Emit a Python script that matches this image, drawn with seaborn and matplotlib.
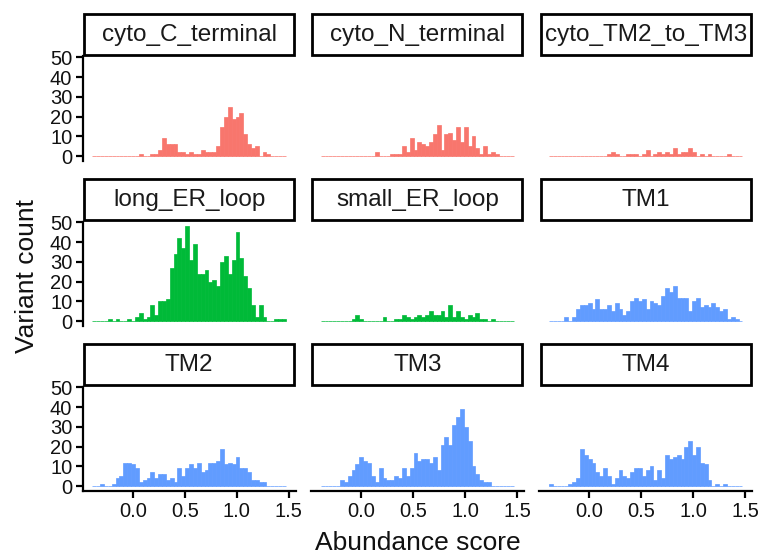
import numpy as np
import pandas as pd
import matplotlib
matplotlib.use("Agg")
import matplotlib.pyplot as plt
from matplotlib.patches import Rectangle
import seaborn as sns

# ---- data: variant counts per abundance-score bin, one list per region ----
regions = ["cyto_C_terminal", "cyto_N_terminal", "cyto_TM2_to_TM3",
           "long_ER_loop", "small_ER_loop", "TM1",
           "TM2", "TM3", "TM4"]
region_type = ["cyto", "cyto", "cyto", "ER", "ER", "TM", "TM", "TM", "TM"]
type_colors = {"cyto": "#F8766D", "ER": "#00BA38", "TM": "#619CFF"}

bin_start = -0.388
bin_width = 0.0372
n_bins = 50

cyto_C_terminal = [0, 0, 0, 0, 0, 0, 0, 0, 0, 0, 0, 0, 1, 0, 0, 1, 1, 3, 9, 6,
                   6, 6, 2, 2, 1, 2, 1, 1, 3, 2, 2, 2, 5, 15, 20, 25, 19, 20, 22, 11,
                   6, 4, 5, 0, 2, 1, 0, 0, 0, 0]
cyto_N_terminal = [0, 0, 0, 0, 0, 0, 0, 0, 0, 0, 0, 0, 0, 0, 2, 0, 0, 0, 1, 1,
                   1, 5, 2, 9, 3, 7, 6, 5, 7, 11, 16, 3, 11, 12, 8, 15, 7, 15, 5, 10,
                   4, 1, 5, 1, 2, 1, 0, 0, 0, 0]
cyto_TM2_to_TM3 = [0, 0, 0, 0, 0, 0, 0, 0, 0, 0, 0, 0, 0, 0, 0, 1, 2, 1, 0, 0,
                   1, 1, 1, 0, 1, 3, 0, 1, 2, 1, 2, 1, 4, 1, 2, 2, 4, 2, 0, 1,
                   0, 1, 0, 0, 0, 0, 1, 0, 0, 0]
long_ER_loop = [0, 0, 0, 0, 1, 0, 1, 0, 0, 1, 0, 2, 4, 1, 2, 8, 3, 10, 10, 11,
                27, 34, 42, 37, 48, 31, 39, 24, 24, 26, 20, 21, 18, 30, 33, 24, 31, 45, 32, 23,
                17, 8, 2, 8, 2, 0, 0, 1, 1, 1]
small_ER_loop = [0, 0, 0, 0, 0, 0, 0, 0, 1, 3, 1, 0, 0, 0, 0, 0, 2, 0, 0, 1,
                 1, 3, 2, 1, 2, 3, 2, 3, 5, 3, 3, 5, 2, 8, 2, 5, 2, 1, 3, 2,
                 4, 1, 1, 0, 1, 0, 0, 0, 0, 0]
TM1 = [0, 0, 0, 0, 2, 0, 2, 6, 8, 8, 9, 6, 11, 6, 6, 8, 5, 9, 6, 3,
       5, 10, 12, 10, 11, 6, 10, 9, 8, 13, 17, 15, 18, 12, 12, 12, 5, 10, 12, 7,
       8, 7, 9, 7, 5, 6, 1, 2, 1, 0]
TM2 = [0, 0, 1, 0, 0, 1, 4, 5, 12, 12, 11, 9, 2, 3, 4, 7, 4, 6, 6, 3,
       4, 2, 9, 5, 9, 11, 9, 12, 7, 8, 12, 12, 13, 19, 11, 12, 11, 15, 9, 9,
       7, 3, 3, 2, 2, 0, 0, 0, 0, 0]
TM3 = [0, 0, 0, 0, 0, 3, 2, 5, 8, 11, 15, 13, 12, 5, 2, 9, 4, 3, 3, 5,
       4, 9, 5, 9, 17, 13, 14, 14, 12, 15, 8, 21, 25, 21, 31, 35, 39, 30, 23, 10,
       6, 3, 2, 2, 0, 0, 0, 0, 0, 0]
TM4 = [1, 0, 0, 0, 0, 1, 2, 4, 19, 16, 14, 12, 7, 5, 9, 5, 1, 4, 8, 5,
       4, 7, 9, 9, 5, 8, 10, 3, 8, 4, 16, 14, 15, 16, 14, 20, 23, 16, 20, 12,
       11, 3, 0, 1, 0, 1, 0, 0, 0, 0]

counts = [cyto_C_terminal, cyto_N_terminal, cyto_TM2_to_TM3,
          long_ER_loop, small_ER_loop, TM1, TM2, TM3, TM4]

x_ticks = [0.0, 0.5, 1.0, 1.5]
y_ticks = [0, 10, 20, 30, 40, 50]

# ---- long-format table ----
bin_end = bin_start + n_bins * bin_width
centers = bin_start + bin_width * (np.arange(n_bins) + 0.5)
frames = []
for name, kind, vals in zip(regions, region_type, counts):
    frames.append(pd.DataFrame({"region": name, "type": kind,
                                "score": centers, "count": vals}))
df = pd.concat(frames, ignore_index=True)

# ---- styling ----
sns.set_theme(style="ticks")
plt.rcParams["font.family"] = ["Liberation Sans", "DejaVu Sans"]
ink = "#111111"

W, H = 762, 556
fig = plt.figure(figsize=(W / 100, H / 100), dpi=100)

col_left = [82.7, 311.0, 539.3]
row_top = [56.5, 221.5, 386.5]
pw, ph = 212.8, 104.5
strip_h = 43.5
box_lw = 2.0      # pt
axis_lw = 1.6     # pt
axis_px = axis_lw * 100 / 72
inset = box_lw * 100 / 72 / 2  # half line width in px

span = n_bins * bin_width
xlim = (bin_start - 0.05 * span, bin_end + 0.05 * span)
ymax = max(max(c) for c in counts)
ylim = (-0.05 * ymax, 1.05 * ymax)

for i, (name, kind) in enumerate(zip(regions, region_type)):
    r, c = divmod(i, 3)
    left = col_left[c] / W
    bottom = (H - row_top[r] - ph) / H
    ax = fig.add_axes([left, bottom, pw / W, ph / H])
    color = type_colors[kind]
    sub = df[df["region"] == name]
    sns.histplot(data=sub, x="score", weights="count", bins=n_bins,
                 binrange=(bin_start, bin_end), ax=ax,
                 color=color, alpha=1, edgecolor=color, linewidth=0.5)
    ax.set_xlim(*xlim)
    ax.set_ylim(*ylim)
    ax.set_xlabel("")
    ax.set_ylabel("")
    ax.set_facecolor("white")

    ax.set_xticks(x_ticks)
    ax.set_yticks(y_ticks)
    ax.set_xticklabels([f"{t:.1f}" for t in x_ticks])
    ax.tick_params(axis="both", which="major", length=5, width=axis_lw,
                   color="black", labelsize=14.5, labelcolor=ink)
    ax.tick_params(axis="x", pad=3.0, bottom=(r == 2), labelbottom=(r == 2))
    ax.tick_params(axis="y", pad=2.5, left=(c == 0), labelleft=(c == 0))

    ax.spines["top"].set_visible(False)
    ax.spines["right"].set_visible(False)
    ax.spines["left"].set_visible(c == 0)
    ax.spines["bottom"].set_visible(r == 2)
    for s in ["left", "bottom"]:
        ax.spines[s].set_linewidth(axis_lw)
        ax.spines[s].set_edgecolor("black")

    if c == 0:
        # solid y-axis bar along the panel's left edge
        fig.patches.append(Rectangle(
            ((col_left[c] - axis_px / 2) / W, bottom - axis_px / 2 / H),
            axis_px / W, (ph + axis_px / 2) / H,
            transform=fig.transFigure, figure=fig,
            facecolor="black", edgecolor="none", zorder=30))

    # facet strip
    dx, dy = inset / pw, inset / ph
    ax.add_patch(Rectangle((dx, 1 + dy), 1 - 2 * dx, (strip_h - 2 * inset) / ph,
                           transform=ax.transAxes, clip_on=False,
                           facecolor="white", edgecolor="black",
                           linewidth=box_lw, zorder=5))
    ax.text(0.5, 1 + (strip_h / 2) / ph, name, transform=ax.transAxes,
            ha="center", va="center", fontsize=17.5, color="#1A1A1A", zorder=6)

fig.text(417.6 / W, 1 - 543 / H, "Abundance score", ha="center", va="center",
         fontsize=19, color=ink)
fig.text(27 / W, 1 - 276 / H, "Variant count", ha="center", va="center",
         rotation=90, fontsize=19, color=ink)

fig.savefig("out.png", dpi=100, facecolor="white")
